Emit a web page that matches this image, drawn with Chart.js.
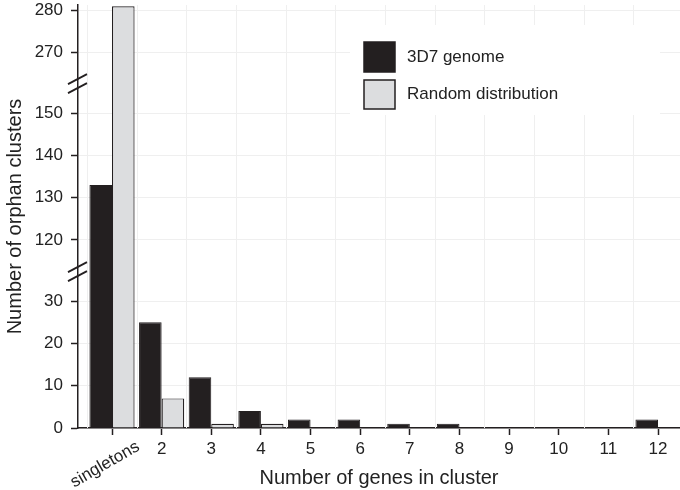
<!DOCTYPE html>
<html><head><meta charset="utf-8">
<script src="https://cdn.jsdelivr.net/npm/chart.js@4/dist/chart.umd.min.js"></script>
<style>html,body{margin:0;padding:0;background:#fff}</style>
</head><body>
<canvas id="c" width="680" height="490"></canvas>
<script>
// ---- data ----
const categories = ['singletons','2','3','4','5','6','7','8','9','10','11','12'];
const genome3D7 = [133,25,12,4,2,2,1,1,0,0,0,2];
const randomDist = [281,7,1,1,0,0,0,0,0,0,0,0];
const seriesNames = ['3D7 genome','Random distribution'];
const yTickValues = [0,10,20,30,120,130,140,150,270,280];
const ySegments = [[0,37],[112.5,157],[262.7,281.3]];

const INK = '#231f20';
const FILLS = ['#231f20','#dcdddf'];
const FONT = "'Liberation Sans', Arial, Helvetica, sans-serif";
Chart.defaults.font.family = FONT;
Chart.defaults.color = '#222';

// ---- broken (piecewise) linear scale ----
class BrokenScale extends Chart.LinearScale {
  determineDataLimits(){
    const s = this.options.segments;
    this.min = s[0][0]; this.max = s[s.length-1][1];
  }
  buildTicks(){ return this.options.tickValues.map(v => ({value: v})); }
  _units(v){
    const s = this.options.segments; let acc = 0;
    for (let i = 0; i < s.length; i++){
      const a = s[i][0], b = s[i][1];
      if (v <= b || i === s.length-1){ acc += Math.max(0, v - a); return acc; }
      acc += b - a;
    }
    return acc;
  }
  getPixelForValue(v){
    const tot = this._units(this.max);
    return this.getPixelForDecimal(this._units(v) / tot);
  }
  getValueForPixel(p){
    const s = this.options.segments;
    let u = this.getDecimalForPixel(p) * this._units(this.max);
    for (let i = 0; i < s.length; i++){
      const len = s[i][1] - s[i][0];
      if (u <= len || i === s.length-1) return s[i][0] + u;
      u -= len;
    }
  }
}
BrokenScale.id = 'broken';
BrokenScale.defaults = {};
Chart.register(BrokenScale);

const decor = {
  id: 'decor',
  beforeDatasetsDraw(chart){
    const {ctx, chartArea: a, scales: {x}} = chart;
    ctx.save();
    ctx.strokeStyle = '#efefef'; ctx.lineWidth = 1;
    for (let i = 0; i <= categories.length; i++){
      const px = Math.round(x.getPixelForValue(i + 0.5)) + 0.5;
      if (px <= a.left + 1 || px > a.right) continue;
      ctx.beginPath(); ctx.moveTo(px, a.top); ctx.lineTo(px, a.bottom); ctx.stroke();
    }
    ctx.restore();
  },
  afterDraw(chart){
    const {ctx, chartArea: a, scales: {x, y}} = chart;
    ctx.save();
    // axis break marks
    ctx.strokeStyle = INK; ctx.lineWidth = 1.8;
    for (let i = 0; i < ySegments.length - 1; i++){
      const yb = y.getPixelForValue((ySegments[i][1] + ySegments[i+1][0]) / 2);
      const xb = a.left;
      [-4.5, 4.5].forEach(d => {
        ctx.beginPath();
        ctx.moveTo(xb - 10, yb + d + 5);
        ctx.lineTo(xb + 9, yb + d - 5);
        ctx.stroke();
      });
    }
    // rotated first category label
    const p1 = x.getPixelForValue(1);
    ctx.save();
    ctx.translate(p1 + 22, a.bottom + 10);
    ctx.rotate(-Math.PI / 6);
    ctx.font = '17px ' + FONT; ctx.fillStyle = '#222';
    ctx.textAlign = 'right'; ctx.textBaseline = 'top';
    ctx.fillText(categories[0], 0, 0);
    ctx.restore();
    // legend
    ctx.fillStyle = '#fff';
    ctx.fillRect(350, 25, 310, 90);
    const boxes = [[364, 42, 31, 30], [364, 80, 31, 29]];
    seriesNames.forEach((n, i) => {
      const b = boxes[i];
      ctx.fillStyle = FILLS[i]; ctx.fillRect(b[0], b[1], b[2], b[3]);
      ctx.strokeStyle = INK; ctx.lineWidth = 1.5; ctx.strokeRect(b[0], b[1], b[2], b[3]);
      ctx.fillStyle = '#222'; ctx.font = '17px ' + FONT;
      ctx.textAlign = 'left'; ctx.textBaseline = 'middle';
      ctx.fillText(n, 407, b[1] + b[3] / 2);
    });
    ctx.restore();
  }
};

new Chart(document.getElementById('c'), {
  type: 'bar',
  data: {
    datasets: [
      { label: seriesNames[0], data: genome3D7.map((v, i) => ({x: i + 1, y: v})),
        backgroundColor: FILLS[0], borderColor: INK, borderWidth: 1 },
      { label: seriesNames[1], data: randomDist.map((v, i) => ({x: i + 1, y: v})),
        backgroundColor: FILLS[1], borderColor: INK, borderWidth: 1.2 }
    ]
  },
  options: {
    responsive: false, animation: false,
    layout: { padding: { left: 0, right: 0, top: 5, bottom: 0 } },
    datasets: { bar: { categoryPercentage: 0.91, barPercentage: 1.0 } },
    plugins: { legend: { display: false }, tooltip: { enabled: false } },
    scales: {
      x: {
        type: 'linear', min: 0.315, max: 12.443, offset: false,
        afterBuildTicks: s => { s.ticks = categories.map((c, i) => ({value: i + 1})); },
        ticks: { autoSkip: false, maxRotation: 0, minRotation: 0, padding: 4,
          font: { size: 17 }, color: '#222',
          callback: (v, i) => i === 0 ? '' : categories[i] },
        grid: { offset: false, drawOnChartArea: false, tickLength: 7, tickColor: INK, tickWidth: 1.5 },
        border: { color: INK, width: 1.5 },
        title: { display: true, text: 'Number of genes in cluster', font: { size: 20 }, color: '#222', padding: { top: 0, bottom: 0 } },
        afterFit: s => { s.height = 62; s.paddingLeft = 0; s.paddingRight = 0; }
      },
      y: {
        type: 'broken', segments: ySegments, tickValues: yTickValues,
        ticks: { autoSkip: false, padding: 8, font: { size: 17 }, color: '#222', callback: v => String(v) },
        grid: { color: '#efefef', lineWidth: 1, tickLength: 7, tickColor: INK, tickWidth: 1.5 },
        border: { color: INK, width: 1.5 },
        title: { display: true, text: 'Number of orphan clusters', font: { size: 20 }, color: '#222', padding: { top: 3, bottom: 0 } },
        afterFit: s => { s.width = 78; s.paddingTop = 0; s.paddingBottom = 0; }
      }
    }
  },
  plugins: [decor]
});
</script>
</body></html>
